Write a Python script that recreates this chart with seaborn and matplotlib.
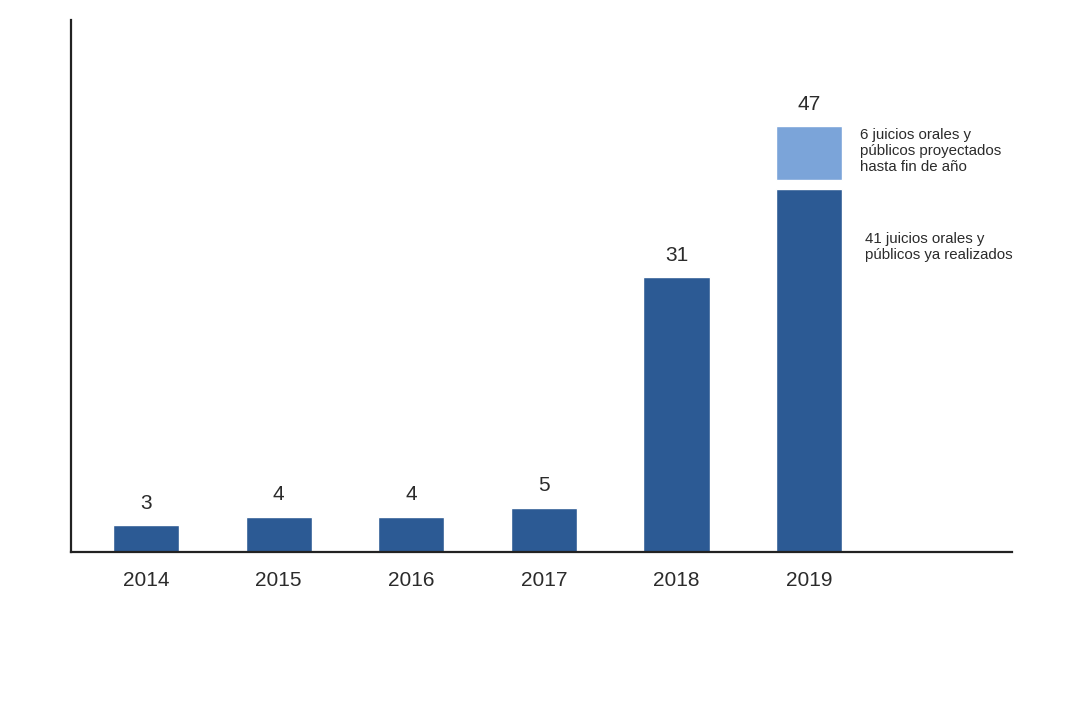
import matplotlib
matplotlib.use("Agg")
import matplotlib.pyplot as plt
import seaborn as sns
import pandas as pd

years = ["2014", "2015", "2016", "2017", "2018", "2019"]
realizados = [3, 4, 4, 5, 31, 41]
proyectados = [0, 0, 0, 0, 0, 6]
totals = [r + p for r, p in zip(realizados, proyectados)]
note_proj = "6 juicios orales y\npúblicos proyectados\nhasta fin de año"
note_real = "41 juicios orales y\npúblicos ya realizados"

sns.set_theme(style="white")
plt.rcParams["font.family"] = ["Liberation Sans", "DejaVu Sans"]

dark = "#2c5a94"
light = "#7ba4d9"
txt = "#2b2b2b"

df = pd.DataFrame({"year": years, "realizados": realizados})

fig = plt.figure(figsize=(10.73, 7.13), dpi=100)
ax = fig.add_axes([0.0662, 0.2258, 0.877, 0.746])

sns.barplot(data=df, x="year", y="realizados", color=dark, width=0.5,
            saturation=1, ax=ax)

gap = 1.0
for i, p in enumerate(proyectados):
    if p > 0:
        ax.bar(i, p, bottom=realizados[i] + gap, width=0.5, color=light)

for i, t in enumerate(totals):
    top = realizados[i] + (proyectados[i] + gap if proyectados[i] > 0 else 0)
    ax.annotate(str(t), (i, top), xytext=(0, 9), textcoords="offset points",
                ha="center", va="bottom", fontsize=15, color=txt)

ax.text(5.38, realizados[5] + gap + proyectados[5] - 0.2, note_proj,
        ha="left", va="top", fontsize=10.8, color=txt, linespacing=1.15)
ax.text(5.42, realizados[5] - 4.9, note_real,
        ha="left", va="top", fontsize=10.8, color=txt, linespacing=1.15)

ax.set_xlim(-0.566, 6.53)
ax.set_ylim(0, 60)
ax.set_xlabel("")
ax.set_ylabel("")
ax.set_yticks([])
ax.tick_params(axis="x", length=0, pad=14, labelsize=15, labelcolor=txt)
for s in ["top", "right"]:
    ax.spines[s].set_visible(False)
for s in ["left", "bottom"]:
    ax.spines[s].set_color("#222222")
    ax.spines[s].set_linewidth(1.6)

fig.savefig("out.png", dpi=100, facecolor="white")
